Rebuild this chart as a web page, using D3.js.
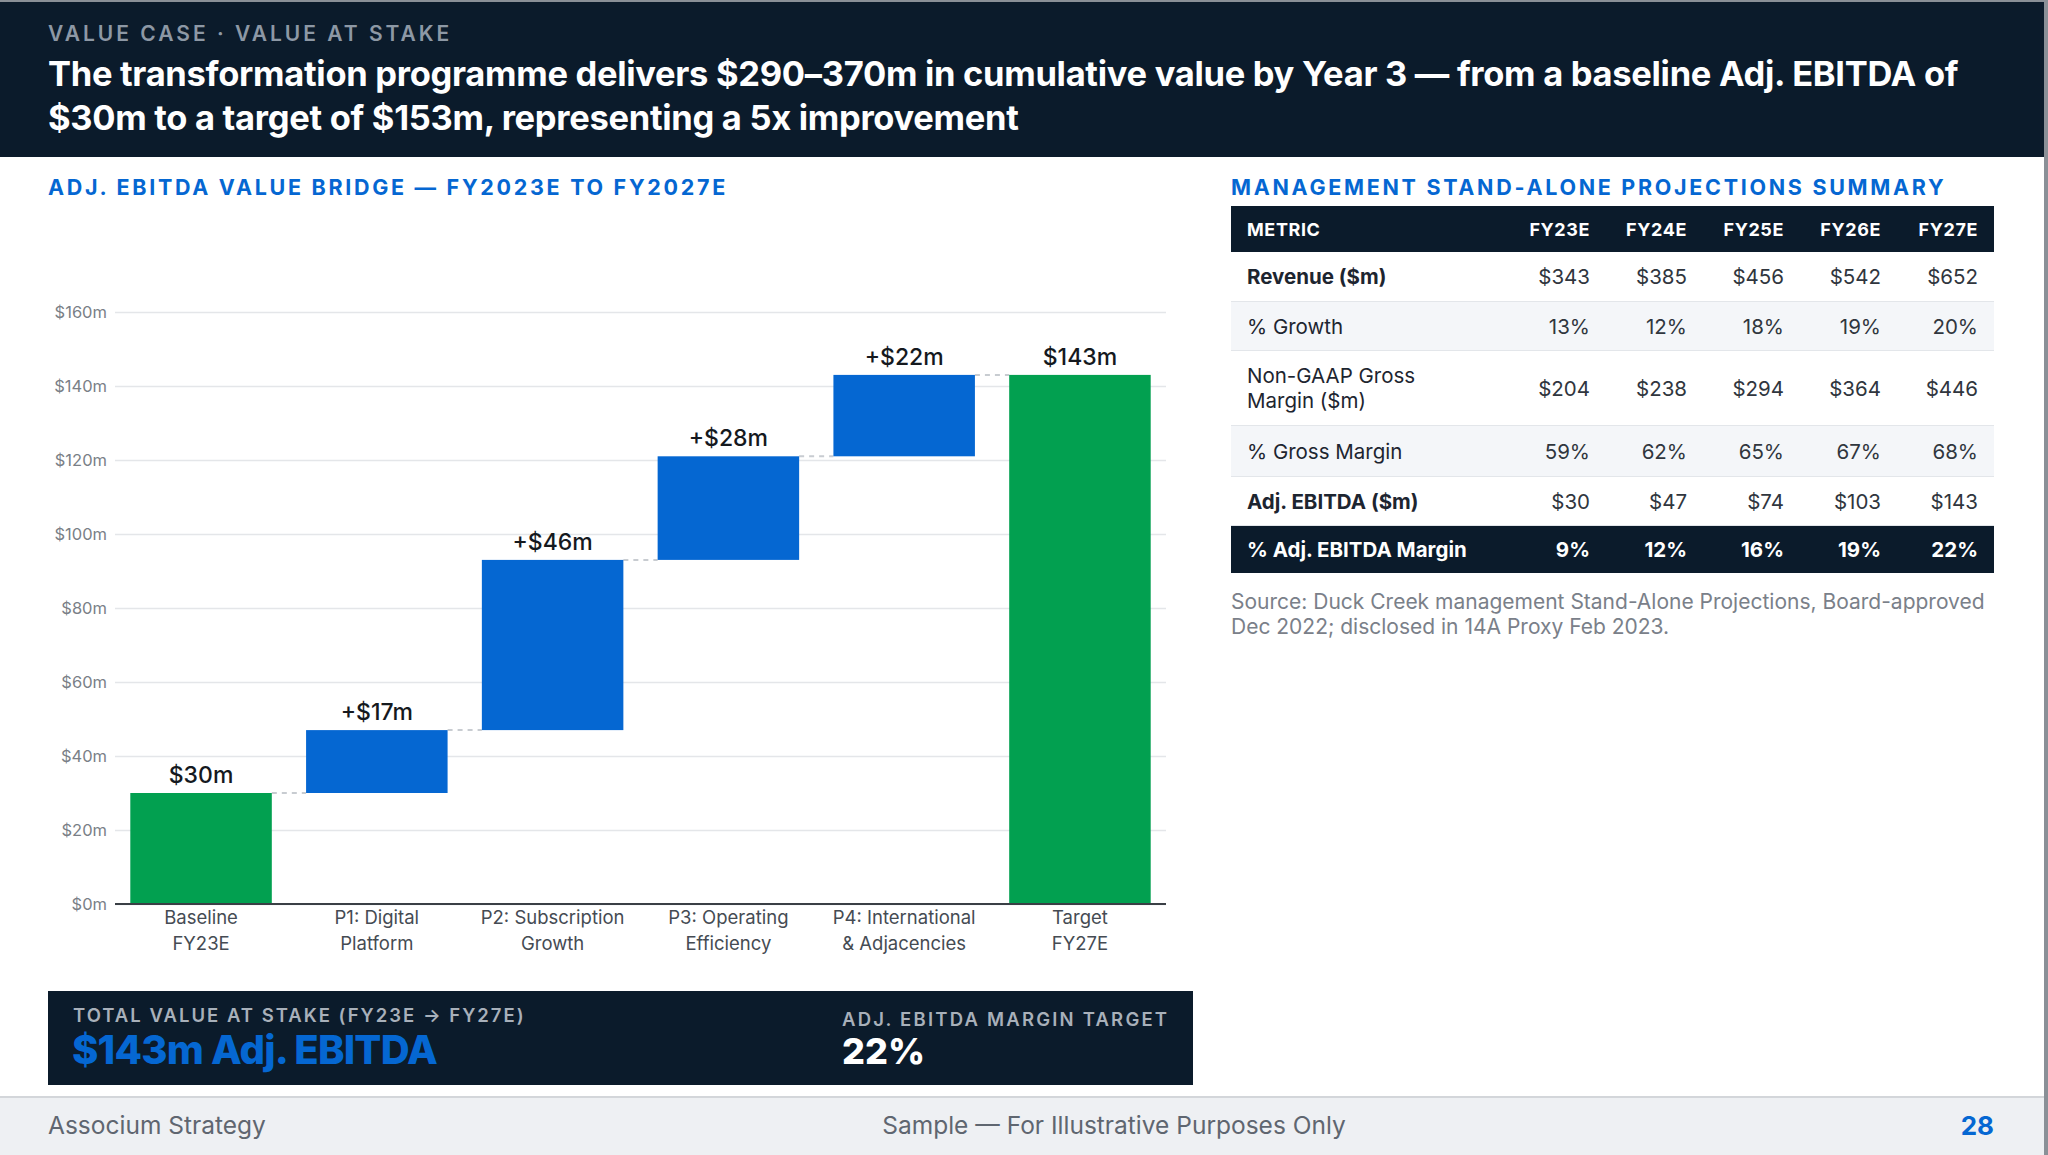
<!DOCTYPE html>
<html><head><meta charset="utf-8">
<script src="https://cdn.jsdelivr.net/npm/d3@7"></script>
<style>
html,body{margin:0;padding:0;background:#fff;}
svg{display:block;font-family:Inter,"Noto Sans",sans-serif;}
</style></head>
<body>
<svg id="slide" width="2048" height="1155"></svg>
<script>
// ---------- DATA ----------
const categories = [["Baseline","FY23E"],["P1: Digital","Platform"],["P2: Subscription","Growth"],["P3: Operating","Efficiency"],["P4: International","& Adjacencies"],["Target","FY27E"]];
const bridgeValues = [30, 17, 46, 28, 22, 143];
const barTypes = ["total","delta","delta","delta","delta","total"];
const valueLabels = ["$30m","+$17m","+$46m","+$28m","+$22m","$143m"];
const yTicks = [0,20,40,60,80,100,120,140,160];

const years = ["FY23E","FY24E","FY25E","FY26E","FY27E"];
const metrics = [["Revenue ($m)"],["% Growth"],["Non-GAAP Gross","Margin ($m)"],["% Gross Margin"],["Adj. EBITDA ($m)"],["% Adj. EBITDA Margin"]];
const revenue = ["$343","$385","$456","$542","$652"];
const growth = ["13%","12%","18%","19%","20%"];
const grossMargin = ["$204","$238","$294","$364","$446"];
const grossMarginPct = ["59%","62%","65%","67%","68%"];
const adjEbitda = ["$30","$47","$74","$103","$143"];
const adjEbitdaMargin = ["9%","12%","16%","19%","22%"];
const rowValues = [revenue, growth, grossMargin, grossMarginPct, adjEbitda, adjEbitdaMargin];

// ---------- STYLE ----------
const NAVY = "#0b1b2b", BLUE = "#0567d2", GREEN = "#02a050";
const svg = d3.select("#slide");

svg.append("rect").attr("x",0).attr("y",0).attr("width",2048).attr("height",1155).attr("fill","#fff");

// header
svg.append("rect").attr("x",0).attr("y",2).attr("width",2044).attr("height",155).attr("fill",NAVY);
svg.append("rect").attr("x",0).attr("y",0).attr("width",2048).attr("height",2).attr("fill","#8a9097");
svg.append("text").attr("x",48).attr("y",41).attr("fill","#8d98a5")
  .attr("font-size",21).attr("font-weight",600).attr("letter-spacing",3)
  .text("VALUE CASE · VALUE AT STAKE");
const titleLines = ["The transformation programme delivers $290–370m in cumulative value by Year 3 — from a baseline Adj. EBITDA of","$30m to a target of $153m, representing a 5x improvement"];
svg.append("g").selectAll("text").data(titleLines).join("text")
  .attr("x",48).attr("y",(d,i)=>86+i*44).attr("fill","#fff")
  .attr("font-size",34.5).attr("font-weight",700).attr("letter-spacing",-0.3)
  .text(d=>d);

// section titles
svg.append("text").attr("x",48).attr("y",195).attr("fill",BLUE)
  .attr("font-size",21.5).attr("font-weight",700).attr("letter-spacing",2.7)
  .text("ADJ. EBITDA VALUE BRIDGE — FY2023E TO FY2027E");
svg.append("text").attr("x",1231).attr("y",195).attr("fill",BLUE)
  .attr("font-size",21.5).attr("font-weight",700).attr("letter-spacing",2.7)
  .text("MANAGEMENT STAND-ALONE PROJECTIONS SUMMARY");

// ---------- CHART ----------
const plotL = 115, plotR = 1166, plotT = 312, plotB = 904;
const x = d3.scaleBand().domain(d3.range(categories.length)).range([plotL+3, plotR-3]).paddingInner(0.195).paddingOuter(0.07);
const y = d3.scaleLinear().domain([0,160]).range([plotB, plotT]);

let run = 0;
const bars = bridgeValues.map((v,i)=>{
  let y0, y1;
  if (barTypes[i]==="total"){ y0 = 0; y1 = v; run = v; }
  else { y0 = run; y1 = run + v; run = y1; }
  return {i, y0, y1, type: barTypes[i], label: valueLabels[i], cat: categories[i]};
});

const chart = svg.append("g");
const yAxis = d3.axisLeft(y).tickValues(yTicks).tickSize(-(plotR-plotL)).tickFormat(d=>"$"+d+"m").tickPadding(8);
const gAxis = chart.append("g").attr("transform",`translate(${plotL},0)`).call(yAxis);
gAxis.select(".domain").remove();
gAxis.selectAll(".tick line").attr("stroke","#e4e6e9").attr("stroke-width",1.3);
gAxis.selectAll(".tick text").attr("fill","#7a7f87").attr("font-size",16.5).attr("font-family","Inter");

chart.append("g").selectAll("line").data(bars.slice(0,-1)).join("line")
  .attr("x1",d=>x(d.i)+x.bandwidth()).attr("x2",d=>x(d.i+1))
  .attr("y1",d=>y(d.y1)).attr("y2",d=>y(d.y1))
  .attr("stroke","#c8ccd1").attr("stroke-width",2).attr("stroke-dasharray","5,5");

chart.append("g").selectAll("rect").data(bars).join("rect")
  .attr("x",d=>x(d.i)).attr("width",x.bandwidth())
  .attr("y",d=>y(d.y1)).attr("height",d=>y(d.y0)-y(d.y1))
  .attr("fill",d=>d.type==="total"?GREEN:BLUE);

chart.append("line").attr("x1",plotL).attr("x2",plotR).attr("y1",y(0)).attr("y2",y(0)).attr("stroke","#3a3f45").attr("stroke-width",2);

chart.append("g").selectAll("text").data(bars).join("text")
  .attr("x",d=>x(d.i)+x.bandwidth()/2).attr("y",d=>y(d.y1)-10)
  .attr("text-anchor","middle").attr("fill","#15191e")
  .attr("font-size",23).attr("font-weight",500)
  .text(d=>d.label);

const catG = chart.append("g").selectAll("text").data(bars).join("text")
  .attr("text-anchor","middle").attr("fill","#454b53").attr("font-size",18.5);
catG.selectAll("tspan").data(d=>d.cat.map(t=>({t, cx:x(d.i)+x.bandwidth()/2}))).join("tspan")
  .attr("x",d=>d.cx).attr("y",(d,j)=>924+j*26).text(d=>d.t);

// KPI box
svg.append("rect").attr("x",48).attr("y",991).attr("width",1145).attr("height",94).attr("fill",NAVY);
svg.append("text").attr("x",73).attr("y",1022).attr("fill","#a8b0ba").attr("font-size",18.5).attr("font-weight",600).attr("letter-spacing",2)
  .text("TOTAL VALUE AT STAKE (FY23E → FY27E)");
svg.append("text").attr("x",72).attr("y",1064).attr("fill",BLUE).attr("font-size",40).attr("font-weight",800).attr("letter-spacing",-0.8)
  .text("$143m Adj. EBITDA");
svg.append("text").attr("x",842).attr("y",1026).attr("fill","#a8b0ba").attr("font-size",18.5).attr("font-weight",600).attr("letter-spacing",2.2)
  .text("ADJ. EBITDA MARGIN TARGET");
svg.append("text").attr("x",842).attr("y",1064).attr("fill","#fff").attr("font-size",36).attr("font-weight",800)
  .text("22%");

// ---------- TABLE ----------
const tL = 1231, tR = 1994;
const colRight = [1590, 1687, 1784, 1881, 1978];
const rowBounds = [[252,302],[302,351],[351,426],[426,477],[477,526],[526,573]];
const rowBg = ["#fff","#f4f6f9","#fff","#f4f6f9","#fff",NAVY];
const boldRows = [true,false,false,false,true,true];
const tbl = svg.append("g");
tbl.append("rect").attr("x",tL).attr("y",206).attr("width",tR-tL).attr("height",46).attr("fill",NAVY);
tbl.append("text").attr("x",1247).attr("y",236).attr("fill","#fff").attr("font-size",18).attr("font-weight",700).attr("letter-spacing",0.6).text("METRIC");
tbl.append("g").selectAll("text").data(years).join("text")
  .attr("x",(d,i)=>colRight[i]).attr("y",236).attr("text-anchor","end")
  .attr("fill","#fff").attr("font-size",18).attr("font-weight",700).attr("letter-spacing",0.6).text(d=>d);

const rows = tbl.append("g").selectAll("g").data(metrics.map((m,i)=>({m, vals:rowValues[i], b:rowBounds[i], bg:rowBg[i], bold:boldRows[i], last:i===metrics.length-1}))).join("g");
rows.append("rect").attr("x",tL).attr("width",tR-tL).attr("y",d=>d.b[0]).attr("height",d=>d.b[1]-d.b[0]).attr("fill",d=>d.bg);
rows.filter(d=>!d.last).append("line").attr("x1",tL).attr("x2",tR).attr("y1",d=>d.b[1]).attr("y2",d=>d.b[1]).attr("stroke","#e3e6ea").attr("stroke-width",2);
rows.each(function(d){
  const g = d3.select(this);
  const cy = (d.b[0]+d.b[1])/2;
  const n = d.m.length;
  const lab = g.append("text").attr("fill",d.last?"#fff":"#1d2530").attr("font-size",20.5).attr("font-weight",d.bold?700:400);
  lab.selectAll("tspan").data(d.m).join("tspan").attr("x",1247)
    .attr("y",(t,j)=>cy+7+(j-(n-1)/2)*25).text(t=>t);
  g.selectAll("text.v").data(d.vals).join("text").attr("class","v")
    .attr("x",(v,i)=>colRight[i]).attr("y",cy+7).attr("text-anchor","end")
    .attr("fill",d.last?"#fff":"#30363e").attr("font-size",20.5).attr("font-weight",d.last?700:400).text(v=>v);
});

const srcLines = ["Source: Duck Creek management Stand-Alone Projections, Board-approved","Dec 2022; disclosed in 14A Proxy Feb 2023."];
svg.append("g").selectAll("text").data(srcLines).join("text")
  .attr("x",1231).attr("y",(d,i)=>609+i*25).attr("fill","#7a8089").attr("font-size",21).text(d=>d);

// ---------- FOOTER ----------
svg.append("rect").attr("x",0).attr("y",1097).attr("width",2044).attr("height",58).attr("fill","#eef0f3");
svg.append("rect").attr("x",0).attr("y",1096).attr("width",2044).attr("height",2).attr("fill","#d3d6da");
svg.append("rect").attr("x",2044).attr("y",0).attr("width",4).attr("height",1155).attr("fill","#8a9097");
svg.append("text").attr("x",48).attr("y",1134).attr("fill","#5f6670").attr("font-size",24.5).text("Associum Strategy");
svg.append("text").attr("x",1114).attr("y",1134).attr("text-anchor","middle").attr("fill","#5f6670").attr("font-size",24.5).text("Sample — For Illustrative Purposes Only");
svg.append("text").attr("x",1994).attr("y",1135).attr("text-anchor","end").attr("fill",BLUE).attr("font-size",26).attr("font-weight",700).text("28");
</script>
</body></html>
